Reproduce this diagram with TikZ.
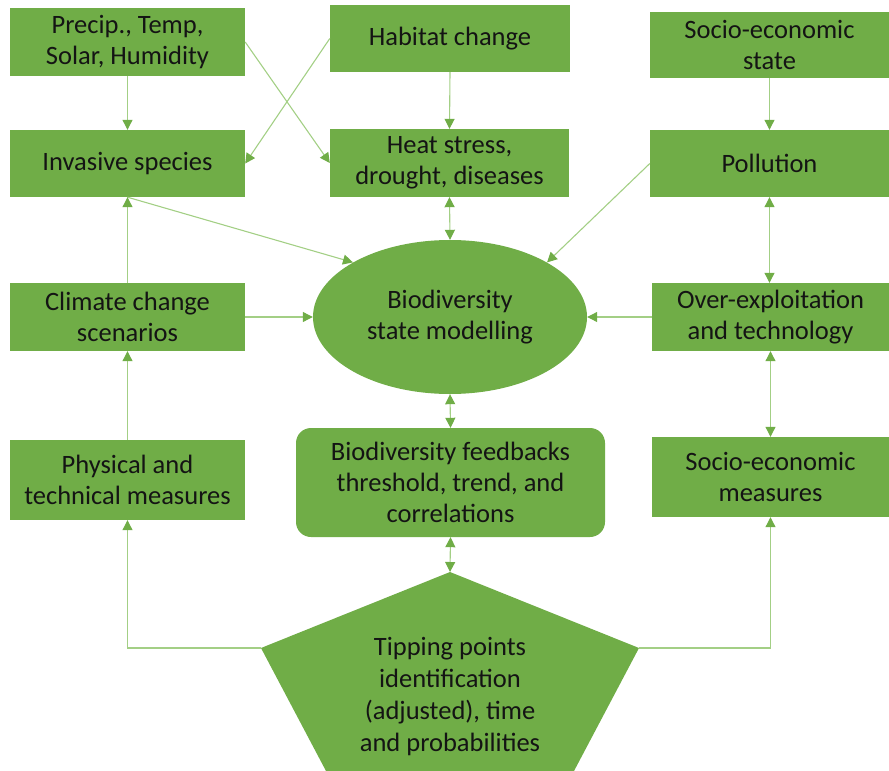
\documentclass[tikz,border=0pt]{standalone}
\usepackage{fontspec}
\setmainfont{Carlito}
\usetikzlibrary{arrows.meta,shapes.geometric}
\definecolor{gfill}{HTML}{70AD47}
\definecolor{gline}{HTML}{A3CF85}
\definecolor{gtip}{HTML}{70AD47}
\definecolor{gtext}{HTML}{141414}
\tikzset{
  box/.style={rectangle, fill=gfill, draw=none, inner sep=0pt, align=center,
    text=gtext, font=\fontsize{26.5}{31}\selectfont},
  conn/.style={draw=gline, line width=1.1pt,
    -{Triangle[length=10pt,width=10pt,color=gtip,fill=gtip]}},
  bconn/.style={draw=gline, line width=1.1pt,
    {Triangle[length=10pt,width=10pt,color=gtip,fill=gtip]}-{Triangle[length=10pt,width=10pt,color=gtip,fill=gtip]}}
}
\begin{document}
\begin{tikzpicture}[x=1pt,y=-1pt]
\useasboundingbox (0,0) rectangle (889,771);
% boxes
\node[box, minimum width=235pt, minimum height=68pt] (prec) at (127.5,42) {Precip., Temp,\\Solar, Humidity};
\node[box, minimum width=235pt, minimum height=67pt] (inv) at (127.5,163.5) {Invasive species};
\node[box, minimum width=240pt, minimum height=67pt] (hab) at (450,38.5) {Habitat change};
\node[box, minimum width=239pt, minimum height=68pt] (heat) at (449.5,163) {Heat stress,\\drought, diseases};
\node[box, minimum width=239pt, minimum height=66pt] (sest) at (769.5,45) {Socio-economic\\state};
\node[box, minimum width=239pt, minimum height=67pt] (poll) at (769.5,163.5) {Pollution};
\node[box, minimum width=235pt, minimum height=68pt] (clim) at (127.5,317) {Climate change\\scenarios};
\node[box, minimum width=237pt, minimum height=68pt] (over) at (770.5,317) {Over-exploitation\\and technology};
\node[box, minimum width=235pt, minimum height=80pt] (phys) at (127.5,480) {Physical and\\technical measures};
\node[box, minimum width=309pt, minimum height=109pt, rounded corners=15pt] (fb) at (450.5,482.5) {Biodiversity feedbacks\\threshold, trend, and\\correlations};
\node[box, minimum width=237pt, minimum height=80pt] (sem) at (770.5,477) {Socio-economic\\measures};
\node[box, ellipse, minimum width=274pt, minimum height=154pt] (bio) at (450,317) {Biodiversity\\state modelling};
% pentagon
\coordinate (papex) at (450,572);
\coordinate (pl) at (261,648);
\coordinate (pr) at (639,648);
\fill[gfill] (papex) -- (pr) -- (574,771) -- (326,771) -- (pl) -- cycle;
\node[box, fill=none, font=\fontsize{26.5}{32}\selectfont] (tip) at (450,697) {Tipping points\\identification\\(adjusted), time\\and probabilities};
% connectors
\draw[conn] (prec.south) -- (inv.north);
\draw[conn] (prec.east) -- (heat.west);
\draw[conn] (hab.west) -- (inv.east);
\draw[conn] (hab.south) -- (heat.north);
\draw[conn] (sest.south) -- (poll.north);
\draw[conn] (inv.south) -- (bio.north west);
\draw[conn] (poll.west) -- (bio.north east);
\draw[bconn] (heat.south) -- (bio.north);
\draw[bconn] (poll.south) -- (poll.south |- over.north);
\draw[conn] (clim.north) -- (inv.south);
\draw[conn] (clim.east) -- (bio.west);
\draw[conn] (over.west) -- (bio.east);
\draw[bconn] (bio.south) -- (fb.north);
\draw[bconn] (over.south) -- (over.south |- sem.north);
\draw[conn] (phys.north) -- (clim.south);
\draw[bconn] (fb.south) -- (papex);
\draw[conn] (pl) -| (phys.south);
\draw[conn] (pr) -| (sem.south);
\end{tikzpicture}
\end{document}
